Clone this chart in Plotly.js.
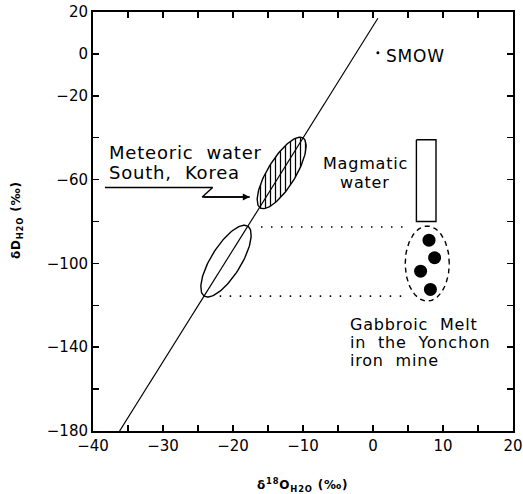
<!DOCTYPE html>
<html>
<head>
<meta charset="utf-8">
<script src="https://cdn.plot.ly/plotly-3.0.1.min.js"></script>
<style>
html,body{margin:0;padding:0;background:#fff;}
.annotation-text{letter-spacing:0.8px;}
</style>
</head>
<body>
<div id="chart" style="width:523px;height:494px;"></div>
<script>
// ---- data ----
const mwlX = [-36.2, 0.7];           // meteoric water line end points (δ18O)
const mwlY = [-180, 17];             // (δD)
const smowX = [0.7];
const smowY = [0.5];
const gabbroX = [8.0, 8.8, 6.8, 8.2];        // gabbroic melt waters δ18O
const gabbroY = [-88.9, -97.3, -103.7, -112.4]; // δD
const magmaticX = [6.2, 9.0];        // magmatic water box δ18O range
const magmaticY = [-80, -41];        // δD range
// meteoric water of South Korea (hatched field): end points of long axis
const meteoricEnds = {x: [-16.1, -10.0], y: [-73.5, -40.1], halfWidthPx: 14};
// calculated water field (open ellipse): end points of long axis
const calcEnds = {x: [-24.1, -17.9], y: [-115.6, -82.2], halfWidthPx: 15};
// gabbro field (dashed ellipse)
const gabbroField = {x: [4.6, 10.9], y: [-118, -82.2]};
const dotTopY = -82.6, dotBotY = -115.6;
const dotTopX = [-16.0, 5.4], dotBotX = [-21.9, 4.2];
const arrowX = [-38.3, -22.9, -24.4, -17.6];
const arrowY = [-63.8, -63.8, -68.3, -68.3];
const meteoricLabel = ['Meteoric  water', 'South,  Korea'];
const meteoricLabelY = [-47.1, -56.7];
const magmaticLabel = ['Magmatic', 'water'];
const magmaticLabelY = [-52.4, -61.4];
const gabbroLabel = ['Gabbroic  Melt', 'in  the  Yonchon', 'iron  mine'];
const gabbroLabelY = [-129.0, -137.6, -146.2];

const xRange = [-40, 20], yRange = [-180, 20];
const W = 523, H = 494, M = {l: 93, r: 10, t: 12, b: 63};
const sx = (W - M.l - M.r) / (xRange[1] - xRange[0]);
const sy = (H - M.t - M.b) / (yRange[1] - yRange[0]);

function tiltedEllipse(ends, n) {
  const cx = (ends.x[0] + ends.x[1]) / 2, cy = (ends.y[0] + ends.y[1]) / 2;
  const ax = (ends.x[1] - ends.x[0]) / 2, ay = (ends.y[1] - ends.y[0]) / 2;
  const px = ax * sx, py = ay * sy, L = Math.hypot(px, py);
  const vx = (-py / L) * ends.halfWidthPx / sx, vy = (px / L) * ends.halfWidthPx / sy;
  const X = [], Y = [];
  for (let i = 0; i <= n; i++) {
    const t = 2 * Math.PI * i / n;
    X.push(cx + ax * Math.cos(t) + vx * Math.sin(t));
    Y.push(cy + ay * Math.cos(t) + vy * Math.sin(t));
  }
  return {X, Y};
}
function boxEllipse(b, n) {
  const cx = (b.x[0] + b.x[1]) / 2, cy = (b.y[0] + b.y[1]) / 2;
  const rx = (b.x[1] - b.x[0]) / 2, ry = (b.y[1] - b.y[0]) / 2;
  const X = [], Y = [];
  for (let i = 0; i <= n; i++) {
    const t = 2 * Math.PI * i / n;
    X.push(cx + rx * Math.cos(t)); Y.push(cy + ry * Math.sin(t));
  }
  return {X, Y};
}
const e1 = tiltedEllipse(meteoricEnds, 120);
const e2 = tiltedEllipse(calcEnds, 120);
const e3 = boxEllipse(gabbroField, 120);

const traces = [
  {x: e1.X, y: e1.Y, mode: 'lines', fill: 'toself', fillcolor: 'white',
   fillpattern: {shape: '|', size: 5, solidity: 0.25, fgcolor: 'black', bgcolor: 'white'},
   line: {color: 'black', width: 1.4}, hoverinfo: 'skip'},
  {x: e2.X, y: e2.Y, mode: 'lines', line: {color: 'black', width: 1.4}},
  {x: mwlX, y: mwlY, mode: 'lines', line: {color: 'black', width: 1.2}},
  {x: dotTopX, y: [dotTopY, dotTopY], mode: 'lines', line: {color: 'black', width: 1.6, dash: '1.5px,8.5px'}},
  {x: dotBotX, y: [dotBotY, dotBotY], mode: 'lines', line: {color: 'black', width: 1.6, dash: '1.5px,8.5px'}},
  {x: [magmaticX[0], magmaticX[1], magmaticX[1], magmaticX[0], magmaticX[0]],
   y: [magmaticY[1], magmaticY[1], magmaticY[0], magmaticY[0], magmaticY[1]],
   mode: 'lines', line: {color: 'black', width: 1.4}},
  {x: e3.X, y: e3.Y, mode: 'lines', line: {color: 'black', width: 1.4, dash: '5px,4px'}},
  {x: gabbroX, y: gabbroY, mode: 'markers', marker: {color: 'black', size: 13}},
  {x: smowX, y: smowY, mode: 'markers', marker: {color: 'black', size: 3}},
  {x: arrowX, y: arrowY, mode: 'lines', line: {color: 'black', width: 1.4}}
];

const font = {family: 'DejaVu Sans', color: 'black'};
function label(x, y, text, size, anchor) {
  return {x: x, y: y, xref: 'x', yref: 'y', xanchor: anchor, yanchor: 'middle', showarrow: false,
          text: text, font: Object.assign({size: size}, font)};
}
const annotations = [];
meteoricLabel.forEach((t, i) => annotations.push(label(-38.0, meteoricLabelY[i], t, 18, 'left')));
magmaticLabel.forEach((t, i) => annotations.push(label(-1.1, magmaticLabelY[i], t, 16, 'center')));
gabbroLabel.forEach((t, i) => annotations.push(label(-3.6, gabbroLabelY[i], t, 16, 'left')));
annotations.push(label(1.6, -1, 'SMOW', 17, 'left'));
annotations.push(
  {x: arrowX[3], y: arrowY[3], ax: arrowX[2], ay: arrowY[3], xref: 'x', yref: 'y', axref: 'x', ayref: 'y',
   showarrow: true, arrowhead: 2, arrowsize: 1, arrowwidth: 1.4, arrowcolor: 'black', text: ''},
  {x: (302 - M.l) / (W - M.l - M.r), y: -(485 - (H - M.b)) / (H - M.t - M.b), xref: 'paper', yref: 'paper',
   xanchor: 'center', yanchor: 'middle', showarrow: false,
   text: '<b>δ<sup>18</sup>O<sub>H2O</sub> (‰)</b>', font: Object.assign({size: 12}, font)},
  {x: -(M.l - 17) / (W - M.l - M.r), y: 1 - (220 - M.t) / (H - M.t - M.b), xref: 'paper', yref: 'paper',
   xanchor: 'center', yanchor: 'middle', showarrow: false, textangle: -90,
   text: '<b>δD<sub>H2O</sub> (‰)</b>', font: Object.assign({size: 12}, font)}
);

const xTickVals = [-40, -30, -20, -10, 0, 10, 20];
const yTickVals = [20, 0, -20, -60, -100, -140, -180];

const layout = {
  width: W, height: H, margin: M, showlegend: false,
  paper_bgcolor: 'white', plot_bgcolor: 'white',
  font: {family: 'DejaVu Sans', size: 15, color: 'black'},
  xaxis: {range: xRange, tickvals: xTickVals, ticks: 'inside', ticklen: 6, tickwidth: 1.5, tickcolor: 'black',
          minor: {dtick: 5, ticks: 'inside', ticklen: 6, tickwidth: 1.5, tickcolor: 'black'},
          showgrid: false, zeroline: false, showline: true, linecolor: 'black', linewidth: 2, mirror: 'allticks',
          tickfont: {size: 15}},
  yaxis: {range: yRange, tickvals: yTickVals, ticks: 'inside', ticklen: 6, tickwidth: 1.5, tickcolor: 'black',
          minor: {dtick: 20, ticks: 'inside', ticklen: 6, tickwidth: 1.5, tickcolor: 'black'},
          showgrid: false, zeroline: false, showline: true, linecolor: 'black', linewidth: 2, mirror: 'allticks',
          tickfont: {size: 15}},
  annotations: annotations
};

Plotly.newPlot('chart', traces, layout, {staticPlot: true, displayModeBar: false});
</script>
</body>
</html>
